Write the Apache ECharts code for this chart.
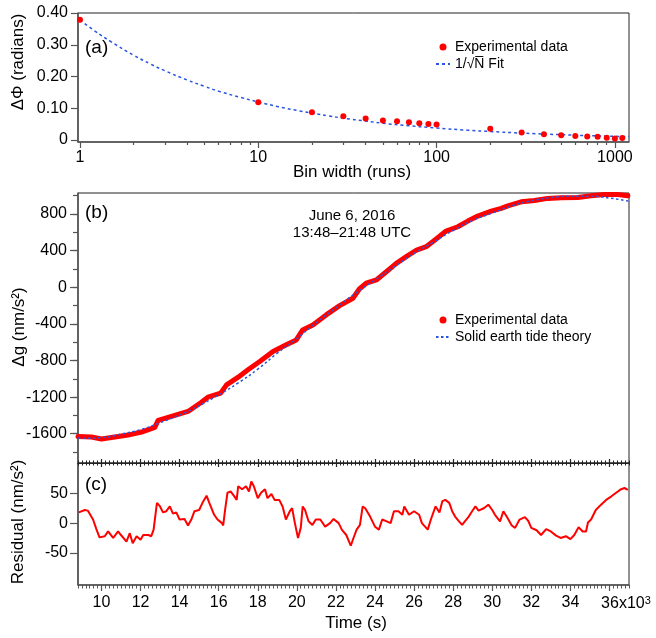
<!DOCTYPE html>
<html><head><meta charset="utf-8">
<script src="https://cdn.jsdelivr.net/npm/echarts@6/dist/echarts.min.js"></script>
<style>html,body{margin:0;padding:0;background:#fff}#c{width:656px;height:638px}</style>
</head><body><div id="c"></div>
<script>
// ---------- Panel (a): phase noise vs bin width ----------
const binWidth = [1, 10, 20, 30, 40, 50, 60, 70, 80, 90, 100, 200, 300, 400, 500, 600, 700, 800, 900, 1000, 1100];
const binPhase = [0.379, 0.119, 0.088, 0.075, 0.068, 0.062, 0.059, 0.056, 0.053, 0.051, 0.049, 0.036, 0.024, 0.018, 0.015, 0.0126, 0.0116, 0.0105, 0.0073, 0.0052, 0.0063];
const fitN = [1, 1.2, 1.5, 2, 2.5, 3, 4, 5, 6, 8, 10, 13, 17, 20, 25, 30, 40, 50, 70, 100, 150, 200, 300, 500, 700, 1000, 1200];
const fitPhase = [0.378, 0.345, 0.309, 0.267, 0.239, 0.218, 0.189, 0.169, 0.154, 0.134, 0.120, 0.105, 0.092, 0.085, 0.076, 0.069, 0.060, 0.053, 0.045, 0.038, 0.031, 0.027, 0.022, 0.017, 0.014, 0.012, 0.011];
const phaseTicks = [0, 0.1, 0.2, 0.3, 0.4];
const binTicks = [1, 10, 100, 1000];
const binMinorTicks = [2, 3, 4, 5, 6, 7, 8, 9, 20, 30, 40, 50, 60, 70, 80, 90, 200, 300, 400, 500, 600, 700, 800, 900];

// ---------- Panel (b): gravity vs time ----------
const expT = [8800, 9490, 10000, 10680, 11360, 12050, 12730, 12900, 13580, 14430, 15100, 15450, 16100, 16400, 17000, 17500, 18100, 18780, 19460, 19970, 20300, 20820, 21500, 22190, 22870, 23200, 23550, 24070, 24580, 25090, 25600, 26130, 26620, 27130, 27640, 28240, 28750, 29260, 29950, 30460, 30800, 31480, 32160, 32840, 33530, 34380, 35060, 35740, 36420, 36940];
const expG = [-1630, -1636, -1658, -1636, -1615, -1582, -1531, -1455, -1411, -1357, -1259, -1200, -1157, -1066, -982, -902, -811, -702, -629, -575, -466, -411, -302, -201, -120, -19, 44, 80, 170, 262, 334, 407, 443, 527, 614, 661, 723, 778, 832, 862, 890, 934, 949, 971, 977, 982, 999, 1014, 1014, 999];
const theoryT = [8800, 9000, 10000, 11000, 12000, 13000, 14000, 15000, 16000, 17000, 18000, 19000, 20000, 21000, 22000, 23000, 24000, 25000, 26000, 27000, 28000, 29000, 30000, 31000, 32000, 33000, 34000, 35000, 36000, 37000];
const theoryG = [-1648, -1650, -1642, -1605, -1555, -1480, -1395, -1295, -1175, -1045, -895, -720, -560, -385, -225, -65, 80, 225, 370, 495, 620, 730, 810, 890, 945, 980, 995, 995, 975, 940];
const gTicks = [-1600, -1200, -800, -400, 0, 400, 800];
const gMinorTicks = [-1800, -1600, -1400, -1200, -1000, -800, -600, -400, -200, 0, 200, 400, 600, 800, 1000];

// ---------- Panel (c): residual ----------
const resT = [8840, 9150, 9300, 9570, 9740, 9900, 10170, 10340, 10600, 10850,
  11000, 11280, 11450, 11600, 11800, 12000, 12140, 12400, 12550, 12670,
  12840, 13000, 13150, 13320, 13500, 13660, 13830, 14000, 14250, 14430,
  14600, 14760, 15000, 15200, 15380, 15520, 15770, 15940, 16170, 16230,
  16340, 16450, 16620, 16800, 16920, 17000, 17200, 17400, 17550, 17670,
  17800, 18000, 18170, 18370, 18500, 18700, 18860, 19100, 19270, 19440,
  19640, 19760, 19900, 20060, 20200, 20300, 20420, 20600, 20800, 20970,
  21200, 21450, 21700, 21880, 22140, 22300, 22530, 22760, 22900, 23060,
  23230, 23370, 23500, 23750, 24000, 24200, 24370, 24600, 24800, 24970,
  25200, 25400, 25500, 25740, 26000, 26260, 26400, 26700, 26860, 27100,
  27300, 27450, 27600, 27800, 27950, 28100, 28300, 28460, 28600, 28800,
  28970, 29140, 29300, 29570, 29800, 30000, 30140, 30400, 30570, 30740,
  31000, 31170, 31400, 31670, 31840, 32000, 32270, 32500, 32760, 33000,
  33270, 33500, 33770, 34000, 34200, 34420, 34630, 34800, 34900, 35060,
  35300, 35570, 35830, 36100, 36340, 36600, 36770, 36940];
const resV = [18, 22, 21, 6, -10, -24, -22, -14, -25, -14,
  -20, -31, -17, -34, -22, -28, -20, -20, -22, -11,
  34, 28, 18, 20, 28, 16, 18, 6, 7, -4,
  6, 20, 22, 36, 46, 34, 14, 6, 0, -4,
  25, 51, 53, 45, 39, 62, 57, 62, 53, 70,
  62, 42, 51, 57, 42, 49, 39, 39, 28, 6,
  20, 25, 0, -25, -8, 28, 22, 3, -3, 6,
  6, -6, 0, 7, 0, -11, -20, -38, -25, -11,
  -3, 28, 25, 11, -6, -11, 6, 3, 0, 20,
  20, 14, 28, 14, 20, 14, 0, -11, 6, 28,
  18, 37, 39, 34, 20, 11, 3, -3, 3, 11,
  20, 28, 21, 25, 31, 22, 14, 3, 20, 11,
  -4, -8, 6, 10, 4, -8, -12, -20, -10, -14,
  -21, -25, -22, -27, -20, -7, -14, -14, 1, 6,
  22, 31, 39, 45, 51, 57, 59, 56];
const resTicks = [-50, 0, 50];
const timeTicks = [10000, 12000, 14000, 16000, 18000, 20000, 22000, 24000, 26000, 28000, 30000, 32000, 34000, 36000];

const FONT = '"Liberation Sans", Arial, Helvetica, sans-serif';
const AX = '#555';
const RED = '#ff0000';
const BLUE = '#2a55e0';
const T_MIN = 8800, T_MAX = 37000;

const pair = (xs, ys) => xs.map((x, i) => [x, ys[i]]);
const lbl = (o) => Object.assign({ color: '#000', fontSize: 16, fontFamily: FONT }, o);
const tick = (len, vals, inside, color) => ({ show: true, length: len, inside: !!inside, customValues: vals, lineStyle: { color: color || AX, width: 1.2 } });
const aline = (show, color, width) => ({ show: show, onZero: false, lineStyle: { color: color, width: width } });

const chart = echarts.init(document.getElementById('c'), null, { renderer: 'canvas' });

const grids = [
  { left: 78, right: 27, top: 13, height: 129 },
  { left: 78, right: 27, top: 193, height: 270 },
  { left: 78, right: 27, top: 463, height: 122 }
].map(g => Object.assign(g, { show: true, borderColor: '#222', borderWidth: 1, backgroundColor: 'transparent', containLabel: false, outerBoundsMode: 'none' }));

const logCommon = { gridIndex: 0, type: 'log', logBase: 10, min: 0.975, max: 1200, position: 'bottom', splitLine: { show: false }, minorTick: { show: false } };
const timeCommon = { type: 'value', min: T_MIN, max: T_MAX, splitLine: { show: false }, minorTick: { show: false } };

const xAxes = [
  Object.assign({}, logCommon, {
    axisLine: aline(true, AX, 1.5),
    axisTick: tick(6, binTicks),
    axisLabel: lbl({ customValues: binTicks, margin: 8, formatter: v => String(v) })
  }),
  Object.assign({}, logCommon, {
    axisLine: aline(false, AX, 1),
    axisTick: tick(3, binMinorTicks),
    axisLabel: { show: false }
  }),
  Object.assign({}, timeCommon, { gridIndex: 1, position: 'bottom',
    axisLine: aline(true, '#222', 1),
    axisTick: tick(4, timeTicks, true, '#222'),
    axisLabel: { show: false }
  }),
  Object.assign({}, timeCommon, { gridIndex: 1, position: 'bottom', interval: 200,
    axisLine: aline(false, '#222', 1),
    axisTick: { show: true, length: 2.5, inside: true, lineStyle: { color: '#222', width: 1 } },
    axisLabel: { show: false }
  }),
  Object.assign({}, timeCommon, { gridIndex: 2, position: 'bottom',
    axisLine: aline(true, AX, 1.5),
    axisTick: tick(6, timeTicks),
    axisLabel: lbl({
      customValues: timeTicks, margin: 10,
      formatter: v => v === 36000 ? '{p|}36{m|x10}{s|3}' : String(v / 1000),
      rich: {
        p: { width: 33 },
        m: { fontSize: 16, fontFamily: FONT, color: '#000' },
        s: { fontSize: 11, fontFamily: FONT, color: '#000', verticalAlign: 'top', padding: [0, 0, 6, 0] }
      }
    })
  }),
  Object.assign({}, timeCommon, { gridIndex: 2, position: 'bottom', interval: 200,
    axisLine: aline(false, AX, 1),
    axisTick: { show: true, length: 3.5, lineStyle: { color: AX, width: 1 } },
    axisLabel: { show: false }
  }),
  Object.assign({}, timeCommon, { gridIndex: 2, position: 'top',
    axisLine: aline(true, '#222', 1),
    axisTick: tick(4, timeTicks, true, '#222'),
    axisLabel: { show: false }
  }),
  Object.assign({}, timeCommon, { gridIndex: 2, position: 'top', interval: 200,
    axisLine: aline(false, '#222', 1),
    axisTick: { show: true, length: 2.5, inside: true, lineStyle: { color: '#222', width: 1 } },
    axisLabel: { show: false }
  })
];

const yAxes = [
  { gridIndex: 0, type: 'value', position: 'left', min: -0.006, max: 0.4, splitLine: { show: false },
    axisLine: aline(true, AX, 1.5),
    axisTick: tick(7, phaseTicks),
    axisLabel: lbl({ customValues: phaseTicks, margin: 10, formatter: v => v === 0 ? '0' : v.toFixed(2) }) },
  { gridIndex: 1, type: 'value', position: 'left', min: -1920, max: 1030, splitLine: { show: false },
    axisLine: aline(true, AX, 1.5),
    axisTick: tick(8, gTicks),
    axisLabel: lbl({ customValues: gTicks, margin: 11, formatter: v => String(v) }) },
  { gridIndex: 1, type: 'value', position: 'left', min: -1920, max: 1030, splitLine: { show: false },
    axisLine: aline(false, AX, 1),
    axisTick: tick(5, gMinorTicks),
    axisLabel: { show: false } },
  { gridIndex: 2, type: 'value', position: 'left', min: -104, max: 101, splitLine: { show: false },
    axisLine: aline(true, AX, 1.5),
    axisTick: tick(8, resTicks),
    axisLabel: lbl({ customValues: resTicks, margin: 10, formatter: v => String(v) }) }
];

const txt = (text, x, y, size, opts, align) => Object.assign({
  type: 'text', x: x, y: y, silent: true,
  style: { text: text, x: 0, y: 0, fill: '#000', font: size + 'px ' + FONT, align: align || 'center', verticalAlign: 'middle' }
}, opts || {});

const legendCommon = { orient: 'vertical', left: 430, itemWidth: 14, itemHeight: 7, itemGap: 3,
  textStyle: { fontSize: 14, fontFamily: FONT, color: '#000' }, selectedMode: false };
const hideDot = { opacity: 0, borderWidth: 0 };

chart.setOption({
  animation: false,
  backgroundColor: '#fff',
  grid: grids,
  xAxis: xAxes,
  yAxis: yAxes,
  legend: [
    Object.assign({}, legendCommon, { top: 35, data: [{ name: 'Experimental data', icon: 'circle' }, { name: '1/√N̅ Fit', itemStyle: hideDot }] }),
    Object.assign({}, legendCommon, { top: 308, data: [{ name: 'Experimental data', icon: 'circle' }, { name: 'Solid earth tide theory', itemStyle: hideDot }] })
  ],
  series: [
    { type: 'line', name: '1/√N̅ Fit', xAxisIndex: 0, yAxisIndex: 0, data: pair(fitN, fitPhase),
      smooth: true, symbol: 'none', lineStyle: { color: BLUE, width: 1.5, type: [3, 3] }, itemStyle: { color: BLUE }, z: 2 },
    { type: 'scatter', name: 'Experimental data', xAxisIndex: 0, yAxisIndex: 0, data: pair(binWidth, binPhase),
      symbol: 'circle', symbolSize: 6, itemStyle: { color: RED, opacity: 1 }, z: 3 },
    { type: 'line', name: 'Experimental data', xAxisIndex: 2, yAxisIndex: 1, data: pair(expT, expG),
      symbol: 'none', lineStyle: { color: RED, width: 5, cap: 'round', join: 'round' }, itemStyle: { color: RED }, z: 2 },
    { type: 'line', name: 'Solid earth tide theory', xAxisIndex: 2, yAxisIndex: 1, data: pair(theoryT, theoryG),
      smooth: true, symbol: 'none', lineStyle: { color: BLUE, width: 1.5, type: [2.5, 2.5] }, itemStyle: { color: BLUE }, z: 3 },
    { type: 'line', name: 'Residual', xAxisIndex: 4, yAxisIndex: 3, data: pair(resT, resV),
      symbol: 'none', lineStyle: { color: RED, width: 2 }, itemStyle: { color: RED }, z: 2 }
  ],
  graphic: [
    txt('(a)', 85, 48, 19, null, 'left'),
    txt('(b)', 85, 213, 19, null, 'left'),
    txt('(c)', 85, 485, 19, null, 'left'),
    txt('June 6, 2016', 352, 216, 15),
    txt('13:48–21:48 UTC', 352, 233, 15),
    txt('ΔΦ (radians)', 18, 62, 17, { rotation: Math.PI / 2 }),
    txt('Δg (nm/s²)', 19, 327, 17, { rotation: Math.PI / 2 }),
    txt('Residual (nm/s²)', 18, 522, 17, { rotation: Math.PI / 2 }),
    txt('Bin width (runs)', 352, 172, 17),
    txt('Time (s)', 356, 623, 17)
  ]
});
</script>
</body></html>
